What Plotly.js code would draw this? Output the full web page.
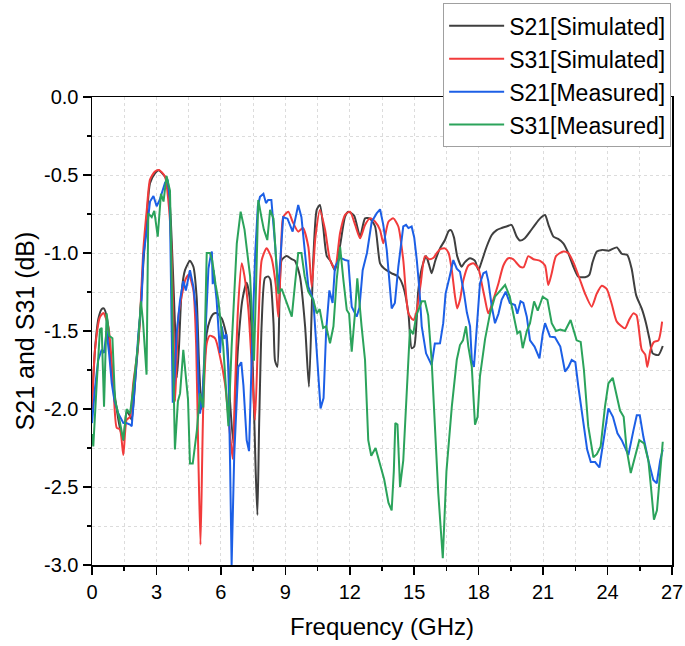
<!DOCTYPE html>
<html><head><meta charset="utf-8">
<script src="https://cdn.plot.ly/plotly-3.0.1.min.js"></script>
<style>html,body{margin:0;padding:0;background:#fff}</style>
</head><body><div id="chart" style="width:685px;height:646px"></div>
<script>
const seriesNames = ["S21[Simulated]", "S31[Simulated]", "S21[Measured]", "S31[Measured]"];

const xS21Sim = [0,0.15,0.3,0.45,0.55,0.7,0.92,1.15,1.3,1.46,1.61,1.75,1.85,2.0,2.23,2.39,2.55,2.7,2.93,3.1,3.24,3.48,3.63,3.74,3.86,3.95,4.05,4.17,4.33,4.56,4.72,4.87,4.98,5.1,5.2,5.34,5.49,5.65,5.8,6.04,6.27,6.42,6.58,6.7,6.81,7.0,7.2,7.35,7.5,7.62,7.7,7.78,7.9,8.05,8.2,8.3,8.45,8.52,8.63,8.73,8.83,9.06,9.3,9.45,9.68,9.92,10.1,10.3,10.46,10.61,10.76,10.93,11.1,11.31,11.55,11.78,11.93,12.2,12.48,12.71,12.94,13.18,13.41,13.6,13.95,14.25,14.49,14.73,14.88,15.0,15.19,15.35,15.55,15.7,15.81,15.98,16.2,16.43,16.6,16.71,16.85,17.0,17.21,17.35,17.6,17.83,17.99,18.15,18.37,18.61,18.84,19.07,19.3,19.53,19.77,19.92,20.15,20.39,20.62,20.86,21.09,21.25,21.48,21.7,21.94,22.17,22.41,22.64,22.95,23.15,23.3,23.5,23.75,24.05,24.43,24.66,24.92,25.12,25.33,25.6,25.79,25.95,26.1,26.37,26.57];
const yS21Sim = [-1.95,-1.6,-1.42,-1.36,-1.355,-1.42,-1.75,-2.0,-2.12,-2.2,-2.02,-2.04,-2.07,-1.84,-1.43,-1.066,-0.767,-0.553,-0.49,-0.47,-0.485,-0.532,-0.70,-1.02,-1.45,-1.8,-1.6,-1.25,-1.11,-1.05,-1.088,-1.28,-1.7,-2.0,-1.8,-1.515,-1.43,-1.39,-1.385,-1.42,-1.536,-1.94,-2.22,-1.85,-1.58,-1.3,-1.19,-1.3,-1.8,-2.4,-2.68,-2.1,-1.45,-1.16,-1.15,-1.17,-1.45,-1.69,-1.73,-1.3,-1.045,-1.02,-1.04,-1.05,-1.15,-1.47,-1.857,-1.045,-0.724,-0.692,-0.83,-1.02,-1.05,-1.11,-0.95,-0.767,-0.735,-0.76,-0.895,-0.778,-0.78,-0.83,-1.066,-1.1,-1.13,-1.15,-1.216,-1.387,-1.61,-1.6,-1.24,-1.1,-1.02,-1.08,-1.13,-1.05,-0.97,-0.917,-0.86,-0.853,-0.9,-1.02,-1.088,-1.06,-1.034,-1.05,-1.11,-1.05,-0.96,-0.885,-0.853,-0.84,-0.83,-0.82,-0.895,-0.92,-0.905,-0.863,-0.82,-0.778,-0.756,-0.82,-0.895,-0.91,-0.938,-1.0,-1.088,-1.152,-1.155,-1.14,-1.06,-0.99,-0.98,-0.985,-0.964,-1.005,-1.013,-1.1,-1.27,-1.36,-1.45,-1.55,-1.643,-1.654,-1.596];

const xS31Sim = [0,0.14,0.37,0.53,0.76,0.99,1.15,1.3,1.46,1.61,1.77,1.92,2.13,2.23,2.39,2.55,2.7,2.93,3.12,3.4,3.55,3.68,3.79,3.87,4.02,4.17,4.35,4.51,4.72,4.85,4.95,5.05,5.18,5.34,5.49,5.73,5.96,6.19,6.42,6.55,6.65,6.8,6.97,7.1,7.28,7.45,7.59,7.75,7.9,8.13,8.35,8.55,8.67,8.78,8.9,9.14,9.34,9.6,9.82,10.07,10.23,10.4,10.61,10.85,11.08,11.31,11.55,11.78,12.01,12.25,12.48,12.71,12.94,13.18,13.41,13.56,13.8,14.03,14.26,14.49,14.73,14.96,15.1,15.3,15.5,15.7,15.9,16.05,16.2,16.43,16.6,16.75,16.9,17.0,17.13,17.29,17.52,17.75,17.99,18.15,18.3,18.45,18.68,18.92,19.15,19.38,19.6,19.93,20.1,20.31,20.55,20.86,21.09,21.24,21.4,21.6,21.94,22.17,22.41,22.72,22.95,23.26,23.5,23.73,23.96,24.2,24.43,24.81,25.0,25.2,25.35,25.59,25.75,25.85,26.0,26.16,26.37,26.54];
const yS31Sim = [-2.0,-1.62,-1.41,-1.385,-1.47,-1.835,-2.12,-2.13,-2.295,-2.07,-2.05,-1.835,-1.62,-1.43,-0.98,-0.724,-0.53,-0.477,-0.468,-0.51,-0.66,-0.917,-1.45,-1.95,-1.41,-1.28,-1.17,-1.14,-1.24,-1.6,-2.3,-2.87,-1.985,-1.58,-1.53,-1.547,-1.665,-1.835,-2.156,-2.32,-1.9,-1.35,-1.066,-1.15,-1.365,-1.75,-2.07,-1.45,-1.045,-0.97,-1.03,-1.2,-1.41,-1.1,-0.77,-0.735,-0.8,-0.863,-0.84,-0.96,-1.216,-0.9,-0.724,-0.85,-1.045,-1.1,-0.87,-0.756,-0.735,-0.82,-0.906,-0.82,-0.778,-0.8,-0.853,-0.938,-0.8,-0.778,-0.83,-1.045,-1.387,-1.43,-1.38,-1.2,-1.02,-1.04,-1.03,-1.0,-0.976,-0.97,-1.0,-1.11,-1.28,-1.355,-1.3,-1.173,-1.08,-1.066,-1.1,-1.2,-1.30,-1.387,-1.3,-1.195,-1.08,-1.034,-1.04,-1.088,-1.09,-1.02,-1.04,-1.05,-1.08,-1.205,-1.13,-1.02,-0.99,-1.0,-1.06,-1.173,-1.26,-1.344,-1.26,-1.21,-1.23,-1.33,-1.44,-1.483,-1.43,-1.387,-1.4,-1.62,-1.65,-1.73,-1.62,-1.57,-1.56,-1.44];

const xS21Meas = [0,0.15,0.29,0.45,0.56,0.68,0.8,0.92,1.05,1.23,1.46,1.6,1.77,1.85,2.0,2.16,2.31,2.39,2.55,2.7,2.86,3.01,3.15,3.4,3.52,3.62,3.7,3.76,3.85,3.94,4.1,4.25,4.37,4.56,4.72,4.87,4.95,5.03,5.15,5.3,5.42,5.52,5.58,5.62,5.66,5.8,5.96,6.04,6.15,6.25,6.35,6.43,6.5,6.62,6.81,6.95,7.05,7.2,7.31,7.45,7.6,7.72,7.82,7.98,8.1,8.2,8.35,8.52,8.67,8.9,9.1,9.34,9.6,9.75,9.92,10.07,10.3,10.46,10.64,10.78,10.9,11.05,11.2,11.31,11.55,11.78,11.93,12.09,12.32,12.45,12.6,12.8,13.02,13.25,13.41,13.56,13.72,13.95,14.1,14.26,14.49,14.62,14.73,14.88,15.0,15.12,15.25,15.35,15.55,15.81,15.96,16.08,16.2,16.35,16.46,16.65,16.82,16.98,17.13,17.32,17.45,17.6,17.68,17.78,17.93,18.06,18.22,18.35,18.45,18.61,18.76,18.92,19.07,19.26,19.45,19.69,19.8,19.95,20.08,20.24,20.39,20.6,20.83,20.98,21.09,21.32,21.55,21.8,22.02,22.18,22.33,22.5,22.64,22.87,23.05,23.22,23.42,23.62,23.8,24.04,24.25,24.46,24.66,24.82,24.97,25.2,25.36,25.5,25.67,25.9,26.13,26.29,26.45,26.57];
const yS21Meas = [-2.09,-1.85,-1.686,-1.62,-1.64,-1.50,-1.65,-1.835,-1.95,-2.03,-2.09,-2.09,-2.10,-2.11,-1.835,-1.515,-1.30,-1.02,-0.853,-0.67,-0.635,-0.70,-0.66,-0.55,-0.53,-0.65,-1.4,-1.96,-1.8,-1.515,-1.3,-1.18,-1.24,-1.11,-1.216,-1.41,-1.8,-2.03,-1.9,-1.4,-1.1,-1.02,-0.99,-1.2,-1.11,-1.3,-1.64,-1.47,-1.55,-1.52,-1.75,-2.37,-3.0,-2.3,-1.73,-1.7,-1.85,-2.2,-2.27,-1.6,-1.0,-0.7,-0.64,-0.62,-0.68,-0.66,-0.66,-0.94,-1.24,-0.77,-0.78,-0.863,-0.692,-0.77,-1.0,-1.216,-1.30,-1.6,-1.996,-1.93,-1.5,-1.24,-1.32,-1.088,-1.03,-1.045,-1.05,-1.344,-1.408,-1.35,-1.11,-1.0,-0.8,-0.746,-0.72,-0.82,-0.98,-1.355,-1.32,-1.088,-0.83,-0.82,-0.84,-0.83,-0.9,-1.045,-1.25,-1.47,-1.643,-1.718,-1.58,-1.58,-1.579,-1.45,-1.26,-1.15,-1.045,-1.1,-1.12,-1.26,-1.38,-1.47,-1.686,-1.73,-1.45,-1.195,-1.13,-1.12,-1.18,-1.344,-1.45,-1.39,-1.30,-1.248,-1.32,-1.333,-1.39,-1.31,-1.32,-1.408,-1.56,-1.6,-1.675,-1.52,-1.45,-1.536,-1.54,-1.6,-1.76,-1.73,-1.686,-1.7,-1.857,-2.09,-2.26,-2.34,-2.34,-2.375,-2.2,-1.996,-2.05,-2.156,-2.2,-2.25,-2.295,-2.14,-2.04,-2.04,-2.18,-2.33,-2.455,-2.476,-2.33,-2.26];

const xS31Meas = [0,0.06,0.22,0.37,0.45,0.56,0.68,0.8,0.95,1.07,1.25,1.46,1.61,1.77,1.92,2.13,2.28,2.38,2.54,2.62,2.78,2.9,3.06,3.21,3.33,3.47,3.63,3.72,3.86,4.0,4.1,4.25,4.47,4.56,4.69,4.88,5.03,5.18,5.34,5.49,5.6,5.75,5.88,6.11,6.35,6.5,6.74,6.92,7.1,7.36,7.54,7.64,7.74,7.9,8.0,8.16,8.29,8.45,8.67,8.83,9.06,9.3,9.45,9.6,9.75,9.9,10.07,10.3,10.46,10.6,10.76,10.9,11.08,11.24,11.39,11.55,11.7,11.86,11.97,12.09,12.24,12.35,12.55,12.71,12.86,13.0,13.2,13.4,13.6,13.8,13.95,14.05,14.12,14.22,14.34,14.49,14.65,14.8,14.95,15.1,15.35,15.5,15.65,15.81,15.96,16.12,16.33,16.5,16.75,16.98,17.13,17.27,17.41,17.52,17.68,17.83,17.95,18.06,18.3,18.53,18.76,18.99,19.23,19.45,19.69,19.8,19.93,20.05,20.24,20.39,20.58,20.75,20.98,21.2,21.4,21.6,21.8,22.02,22.28,22.45,22.56,22.75,22.9,23.1,23.34,23.5,23.68,23.88,24.04,24.24,24.4,24.58,24.75,24.89,25.08,25.28,25.48,25.7,25.9,26.02,26.16,26.3,26.45,26.57];
const yS31Meas = [-2.16,-2.24,-1.835,-1.49,-1.48,-1.985,-1.387,-1.53,-1.547,-1.94,-2.05,-2.2,-2.0,-2.03,-1.87,-1.6,-1.31,-1.45,-1.78,-0.746,-0.77,-0.73,-0.895,-0.62,-0.67,-0.506,-0.6,-1.3,-2.26,-1.95,-1.9,-1.62,-1.94,-2.35,-2.35,-2.14,-1.9,-1.99,-1.0,-1.0,-1.05,-1.2,-1.30,-1.6,-2.11,-1.6,-0.94,-0.735,-0.85,-1.15,-1.69,-1.2,-0.66,-0.78,-0.85,-0.917,-0.724,-0.78,-1.26,-1.23,-1.32,-1.408,-1.2,-1.0,-1.0,-1.15,-1.248,-1.3,-1.387,-1.36,-1.48,-1.47,-1.579,-1.47,-1.173,-0.96,-1.17,-1.365,-1.39,-1.633,-1.39,-1.162,-1.47,-1.686,-2.2,-2.3,-2.25,-2.35,-2.45,-2.6,-2.65,-2.4,-2.09,-2.1,-2.5,-2.33,-1.9,-1.49,-1.52,-1.4,-1.31,-1.31,-1.4,-1.686,-2.1,-2.54,-2.957,-2.4,-1.985,-1.686,-1.59,-1.56,-1.47,-1.6,-1.73,-2.10,-2.05,-1.79,-1.55,-1.387,-1.28,-1.24,-1.205,-1.28,-1.43,-1.515,-1.5,-1.61,-1.5,-1.45,-1.31,-1.37,-1.28,-1.3,-1.45,-1.5,-1.49,-1.50,-1.43,-1.5,-1.56,-1.57,-1.75,-2.11,-2.31,-2.29,-2.24,-1.985,-1.835,-1.80,-1.9,-2.01,-2.05,-2.26,-2.41,-2.3,-2.2,-2.22,-2.33,-2.5,-2.71,-2.65,-2.4,-2.21];

const xTickVals = [0,3,6,9,12,15,18,21,24,27];
const xTickText = ["0","3","6","9","12","15","18","21","24","27"];
const yTickVals = [0,-0.5,-1,-1.5,-2,-2.5,-3];
const yTickText = ["0.0","-0.5","-1.0","-1.5","-2.0","-2.5","-3.0"];

const fontFam = "'Liberation Sans', Arial, sans-serif";
const colors = ["#3f3f3f", "#f23b3b", "#1c5fe6", "#2ba35b"];

const xs = [xS21Sim, xS31Sim, xS21Meas, xS31Meas];
const ys = [yS21Sim, yS31Sim, yS21Meas, yS31Meas];
const traces = xs.map((x, i) => ({
  x: x, y: ys[i], type: "scatter", mode: "lines", name: seriesNames[i],
  line: {color: colors[i], width: 2, shape: i < 2 ? "spline" : "linear", smoothing: 0.6},
  cliponaxis: true
}));

const axisCommon = {
  showline: true, linecolor: "#000", linewidth: 1.5, mirror: true,
  ticks: "outside", ticklen: 8, tickwidth: 1.5, tickcolor: "#000",
  showgrid: false, zeroline: false, automargin: false,
  tickfont: {family: fontFam, size: 20, color: "#000"}
};

const layout = {
  width: 685, height: 646,
  margin: {l: 92, r: 13, t: 97, b: 81, pad: 0, autoexpand: false},
  paper_bgcolor: "#fff", plot_bgcolor: "#fff",
  showlegend: true,
  xaxis: Object.assign({}, axisCommon, {
    range: [0, 27], tickmode: "array", tickvals: xTickVals, ticktext: xTickText,
    minor: {dtick: 1.5, tick0: 0, ticks: "outside", ticklen: 4, tickwidth: 1.5, tickcolor: "#000",
            showgrid: true, gridcolor: "#dcdcdc", griddash: "dot", gridwidth: 1},
    title: {text: "Frequency (GHz)", font: {family: fontFam, size: 24, color: "#000"}, standoff: 16}
  }),
  yaxis: Object.assign({}, axisCommon, {
    range: [-3, 0], tickmode: "array", tickvals: yTickVals, ticktext: yTickText,
    minor: {dtick: 0.25, tick0: 0, ticks: "outside", ticklen: 4, tickwidth: 1.5, tickcolor: "#000",
            showgrid: true, gridcolor: "#dcdcdc", griddash: "dot", gridwidth: 1},
    title: {text: "S21 and S31 (dB)", font: {family: fontFam, size: 25, color: "#000"}, standoff: 2}
  }),
  legend: {
    x: 0.9985, xanchor: "right", y: 1.2, yanchor: "top",
    bgcolor: "#fff", bordercolor: "#a0a0a0", borderwidth: 1,
    font: {family: fontFam, size: 23, color: "#000"},
    itemwidth: 55, tracegroupgap: 0
  }
};

Plotly.newPlot("chart", traces, layout, {displayModeBar: false, staticPlot: true});
</script>
</body></html>
